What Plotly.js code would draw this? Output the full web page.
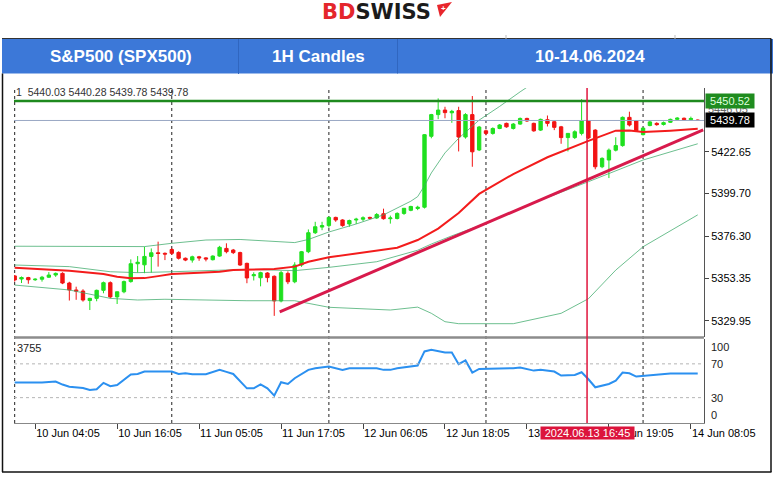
<!DOCTYPE html>
<html><head><meta charset="utf-8">
<script src="https://cdn.plot.ly/plotly-3.0.1.min.js"></script>
<style>html,body{margin:0;padding:0;background:#fff;overflow:hidden}#chart{width:780px;height:478px}</style>
</head><body><div id="chart"></div>
<script>
// ---- data (hourly candles, bar index 0..100) ----
const openP = [5354.5,5352.8,5353.6,5352.4,5352.7,5353.8,5355.0,5355.9,5350.6,5346.8,
 5346.2,5341.0,5342.2,5346.6,5350.8,5343.0,5345.8,5351.4,5361.2,5360.6,
 5365.2,5367.2,5366.9,5369.0,5367.4,5364.2,5363.2,5365.0,5364.4,5363.4,
 5365.4,5369.6,5368.7,5367.3,5361.4,5354.6,5353.5,5356.1,5354.3,5340.8,
 5355.9,5351.3,5360.5,5367.8,5378.2,5381.3,5382.1,5386.6,5385.2,5383.0,
 5385.2,5385.6,5386.6,5386.3,5388.6,5385.9,5386.0,5388.8,5390.5,5391.5,
 5392.2,5431.1,5443.0,5445.5,5444.0,5445.2,5430.7,5443.0,5423.6,5434.1,
 5432.7,5435.4,5438.2,5435.4,5437.8,5440.9,5438.2,5434.5,5440.2,5439.1,
 5436.3,5430.4,5430.4,5432.7,5439.5,5434.5,5414.4,5418.1,5423.5,5426.0,
 5441.5,5439.5,5432.0,5437.0,5438.2,5437.6,5438.8,5440.4,5441.0,5440.2,
 5440.03];
const highP = [5355.0,5354.2,5354.0,5353.2,5354.5,5356.6,5356.4,5356.5,5351.3,5348.6,
 5347.2,5342.5,5347.0,5351.4,5351.5,5346.0,5352.0,5363.6,5365.4,5370.5,
 5369.6,5373.3,5367.4,5369.8,5368.0,5364.6,5365.6,5365.5,5364.8,5365.8,
 5371.0,5372.4,5369.3,5367.8,5361.8,5356.5,5356.8,5356.6,5354.8,5357.2,
 5357.0,5362.0,5368.2,5380.0,5384.2,5384.2,5387.0,5387.0,5385.6,5385.4,
 5386.4,5387.2,5387.0,5389.0,5391.4,5387.6,5389.4,5391.8,5393.0,5393.0,
 5432.3,5443.4,5451.9,5447.3,5445.6,5447.3,5443.8,5453.2,5436.8,5434.8,
 5436.0,5437.8,5438.6,5438.4,5441.4,5441.3,5438.6,5440.8,5442.5,5439.6,
 5436.8,5432.9,5434.4,5451.5,5440.0,5435.0,5419.6,5424.4,5430.6,5442.0,
 5444.6,5440.0,5436.0,5439.6,5438.8,5439.2,5440.8,5441.6,5441.4,5441.9,
 5440.28];
const lowP = [5351.4,5350.6,5350.2,5351.8,5351.4,5353.4,5354.0,5350.0,5341.0,5341.4,
 5340.4,5335.8,5340.6,5345.0,5342.2,5339.1,5345.0,5350.8,5356.3,5356.0,
 5356.3,5359.6,5363.2,5366.0,5363.5,5362.6,5361.8,5362.8,5362.5,5363.0,
 5365.0,5366.9,5366.5,5360.0,5350.5,5352.0,5348.8,5351.0,5332.6,5340.0,
 5350.0,5350.5,5359.5,5367.0,5377.5,5379.6,5381.0,5384.2,5381.5,5381.5,
 5383.0,5384.5,5385.6,5385.8,5385.4,5383.2,5385.5,5388.0,5390.0,5390.6,
 5391.5,5430.0,5440.5,5441.0,5438.5,5422.8,5429.8,5414.4,5423.0,5431.6,
 5432.0,5435.0,5435.8,5434.8,5437.4,5439.0,5433.6,5434.0,5436.5,5434.5,
 5427.0,5422.8,5429.6,5431.6,5429.6,5413.0,5413.6,5408.2,5422.8,5425.4,
 5436.5,5433.6,5431.6,5436.6,5436.9,5437.0,5438.4,5440.0,5439.8,5439.6,
 5439.78];
const closeP = [5352.3,5353.6,5352.4,5352.7,5353.8,5355.0,5355.9,5350.6,5346.8,5346.2,
 5341.3,5342.2,5346.6,5350.8,5343.0,5345.8,5351.4,5361.2,5362.0,5365.2,
 5367.2,5366.8,5366.5,5366.9,5364.2,5363.2,5365.0,5364.4,5363.8,5365.4,
 5370.2,5367.8,5367.3,5360.5,5353.4,5355.2,5356.3,5353.6,5340.8,5356.3,
 5351.3,5360.5,5367.8,5378.2,5381.5,5382.1,5386.6,5385.2,5382.1,5384.9,
 5385.6,5386.4,5386.2,5388.2,5385.9,5386.3,5388.8,5391.6,5392.6,5392.2,
 5432.0,5443.0,5445.5,5444.1,5444.8,5430.7,5443.0,5422.6,5436.2,5432.7,
 5435.4,5437.3,5436.3,5437.8,5440.9,5439.5,5434.1,5440.4,5438.2,5436.0,
 5430.4,5432.7,5433.6,5439.5,5430.2,5414.4,5419.0,5423.5,5426.0,5441.5,
 5437.3,5434.1,5435.6,5439.0,5437.5,5438.6,5440.4,5441.1,5440.2,5440.9,
 5439.78];

// red moving average
const maBars = [0,8,13,15,17,19,21,23,27,30,32,34,38,41,43,46,52,56,59,62,65,68,73,78,84,88,90,92,96,100];
const maVals = [5359.0,5357.3,5355.5,5354.0,5353.2,5353.3,5354.4,5355.5,5356.2,5356.8,5357.7,5358.0,5358.3,5359.6,5362.3,5364.7,5367.8,5370.0,5374.2,5380.5,5389.0,5399.5,5410.4,5419.6,5428.6,5434.2,5434.3,5433.5,5434.2,5435.2];
// Bollinger bands
const bbUpBars = [0,12,19,23,28,33,37,41,43,46,50,54,58,59,60,61,63,65,68,71,74,77];
const bbUpVals = [5370.8,5370.6,5370.6,5372.4,5374.2,5374.5,5373.8,5372.8,5374.5,5378.6,5383.0,5388.0,5395.5,5398.0,5404.0,5411.0,5422.0,5430.0,5440.0,5447.5,5455.5,5463.0];
const bbMidBars = [0,8,14,18,23,30,34,41,46,53,59,61,64,69,75,84,92,100];
const bbMidVals = [5360.5,5359.6,5356.8,5356.3,5356.8,5357.4,5358.1,5357.4,5359.2,5362.3,5368.6,5372.0,5376.5,5383.4,5393.2,5406.2,5418.1,5427.0];
const bbLowBars = [0,8,14,18,22,34,41,46,55,59,61,63,65,73,80,84,88,92,100];
const bbLowVals = [5349.5,5346.8,5342.2,5341.3,5341.7,5340.9,5340.9,5337.3,5335.8,5337.4,5334.0,5329.4,5328.3,5328.3,5334.0,5342.0,5357.7,5370.5,5388.0];
// drawn trend line
const trendBars = [38.8, 100.8];
const trendVals = [5334.8, 5434.6];
// RSI
const rsiBars = [0,4,6,7,8,10,11,12,13,14,15,16,17,18,19,23,24,25,26,28,30,31,32,34,35,36,37,38,39,40,41,43,44,46,48,49,53,54,55,56,58,59,60,61,63,64,65,66,67,68,73,74,76,77,79,80,82,83,84,85,87,88,89,90,91,93,96,100];
const rsiVals = [47.8,47.8,49,45.5,43,41.5,39,40,47.5,43.5,45,51,57.5,58,61,61,58,59,57.7,57.7,62.9,60.5,58,41,41,45.8,41,32.4,48.2,46.2,53,62.9,64.9,66.8,62.9,64.9,64.9,62.9,62.9,64.9,66.8,68,84.7,86.6,83.5,83.5,69.6,74,59.7,64,64.9,65.6,62,62.9,60.9,56.1,56.9,60.1,51.8,42.3,46.2,50.2,59.7,58.9,55,56.1,58.5,58.5];
const rsiLevels = [100, 70, 30, 0];

// axis labels
const labelBars = [3,15,27,39,51,63,75,87,99];
const timeLabels = ["10 Jun 04:05","10 Jun 16:05","11 Jun 05:05","11 Jun 17:05","12 Jun 06:05","12 Jun 18:05","13 Jun 07:05","13 Jun 19:05","14 Jun 08:05"];
const priceTicks = [5422.65, 5399.70, 5376.30, 5353.35, 5329.95];
const resistance = 5450.52, askLevel = 5446.05, bidLevel = 5439.78;
const crossBar = 83.8, crossLabel = "2024.06.13 16:45";
const gridBars = [0, 23, 46, 69, 92];
const ohlcInfo = "1  5440.03 5440.28 5439.78 5439.78";
const rsiInfo = "3755";
const headerCells = ["S&P500 (SPX500)", "1H Candles", "10-14.06.2024"];

// ---- layout geometry ----
const W=780, H=478, L=14, R=76, T=88, B=55;
const PW=W-L-R, PH=H-T-B;
const px = x => (x-L)/PW, py = y => (H-B-y)/PH;
const FONT = 'Liberation Sans, Arial, sans-serif';
const idx = openP.map((_, i) => i);

const traces = [
  {type:'candlestick', x: idx, open: openP, high: highP, low: lowP, close: closeP,
   xaxis:'x', yaxis:'y', whiskerwidth:0,
   increasing:{line:{color:'#1fe01f', width:1}, fillcolor:'#1fe01f'},
   decreasing:{line:{color:'#f21313', width:1}, fillcolor:'#f21313'},
   hoverinfo:'skip', showlegend:false},
  {type:'scatter', mode:'lines', x: bbUpBars, y: bbUpVals, line:{color:'rgba(60,170,105,0.75)', width:1}, xaxis:'x', yaxis:'y', hoverinfo:'skip'},
  {type:'scatter', mode:'lines', x: bbMidBars, y: bbMidVals, line:{color:'rgba(60,170,105,0.75)', width:1}, xaxis:'x', yaxis:'y', hoverinfo:'skip'},
  {type:'scatter', mode:'lines', x: bbLowBars, y: bbLowVals, line:{color:'rgba(60,170,105,0.75)', width:1}, xaxis:'x', yaxis:'y', hoverinfo:'skip'},
  {type:'scatter', mode:'lines', x: maBars, y: maVals, line:{color:'#f31c1c', width:2}, xaxis:'x', yaxis:'y', hoverinfo:'skip'},
  {type:'scatter', mode:'lines', x: trendBars, y: trendVals, line:{color:'#d81a4c', width:3}, xaxis:'x', yaxis:'y', hoverinfo:'skip'},
  {type:'scatter', mode:'lines', x: rsiBars, y: rsiVals, line:{color:'#2b90f0', width:2}, xaxis:'x', yaxis:'y2', hoverinfo:'skip'}
];

const shapes = [
  // header band
  {type:'rect', xref:'paper', yref:'paper', x0:px(2), x1:px(773), y0:py(73.5), y1:py(39), fillcolor:'#3c78d8', line:{width:0}, layer:'below'},
  {type:'line', xref:'paper', yref:'paper', x0:px(2), x1:px(771), y0:py(38.5), y1:py(38.5), line:{color:'#333', width:1}},
  {type:'line', xref:'paper', yref:'paper', x0:px(238.5), x1:px(238.5), y0:py(74), y1:py(39), line:{color:'#3066c0', width:1}},
  {type:'line', xref:'paper', yref:'paper', x0:px(397.5), x1:px(397.5), y0:py(73.5), y1:py(39), line:{color:'#3066c0', width:1}},
  {type:'line', xref:'paper', yref:'paper', x0:px(506), x1:px(506), y0:py(39), y1:py(35), line:{color:'#bbb', width:1}},
  {type:'line', xref:'paper', yref:'paper', x0:px(675), x1:px(675), y0:py(39), y1:py(35), line:{color:'#bbb', width:1}},
  // outer frame
  {type:'line', xref:'paper', yref:'paper', x0:px(2.5), x1:px(2.5), y0:py(73.5), y1:py(472), line:{color:'#111', width:1.5}},
  {type:'line', xref:'paper', yref:'paper', x0:px(771), x1:px(771), y0:py(38.5), y1:py(472), line:{color:'#111', width:1.5}},
  {type:'line', xref:'paper', yref:'paper', x0:px(2), x1:px(771.5), y0:py(472), y1:py(472), line:{color:'#111', width:1.5}},
  // logo flag
  {type:'path', xref:'paper', yref:'paper', path:`M ${px(437)},${py(5)} L ${px(452)},${py(2)} L ${px(440)},${py(17)} Z`, fillcolor:'#e8262c', line:{width:0}},
  // panel separator
  {type:'line', xref:'paper', yref:'paper', x0:px(14), x1:px(704), y0:py(337.6), y1:py(337.6), line:{color:'#8c8c8c', width:2.5}},
  // RSI levels
  {type:'line', xref:'paper', yref:'y2', x0:0, x1:1, y0:rsiLevels[1], y1:rsiLevels[1], line:{color:'#b5b5b5', width:1, dash:'dot'}},
  {type:'line', xref:'paper', yref:'y2', x0:0, x1:1, y0:rsiLevels[2], y1:rsiLevels[2], line:{color:'#b5b5b5', width:1, dash:'dot'}},
  // horizontal levels
  {type:'line', xref:'paper', yref:'y', x0:0, x1:1, y0:bidLevel, y1:bidLevel, line:{color:'#9aa8c4', width:1}},
  {type:'line', xref:'paper', yref:'y', x0:0, x1:1, y0:resistance, y1:resistance, line:{color:'#1e8a1e', width:2.5}},
];
gridBars.forEach(b => shapes.push({type:'line', xref:'x', yref:'paper', x0:b, x1:b, y0:0, y1:1, line:{color:'#222', width:1, dash:'dot'}, layer:'below'}));
shapes.push({type:'line', xref:'x', yref:'paper', x0:crossBar, x1:crossBar, y0:0, y1:1, line:{color:'#e0143c', width:1.5}});

const hdr = (x, t) => ({xref:'paper', yref:'paper', x:px(x), y:py(56.5), text:'<b>'+t+'</b>', showarrow:false,
  xanchor:'center', yanchor:'middle', font:{family:FONT, size:17, color:'#fff'}});

const annotations = [
  {xref:'paper', yref:'paper', x:px(376), y:py(11.5), text:'<b><span style="color:#e4262c">BD</span><span style="color:#1b1b1b">SWISS</span></b>', showarrow:false, font:{family:'DejaVu Sans, sans-serif', size:21}, xanchor:'center', yanchor:'middle'},
  {xref:'paper', yref:'paper', x:px(443.5), y:py(8.5), text:'<b>+</b>', showarrow:false, font:{family:FONT, size:8, color:'#fff'}, xanchor:'center', yanchor:'middle'},
  hdr(121, headerCells[0]), hdr(318, headerCells[1]), hdr(590, headerCells[2]),
  {xref:'paper', yref:'paper', x:px(14), y:py(92.5), text:ohlcInfo, showarrow:false, xanchor:'left', yanchor:'middle', font:{family:FONT, size:10.5, color:'#333'}},
  {xref:'paper', yref:'paper', x:px(15), y:py(348), text:rsiInfo, showarrow:false, xanchor:'left', yanchor:'middle', font:{family:FONT, size:11, color:'#222'}},
  // price badges
  {xref:'paper', yref:'y', x:px(706), y:askLevel, text:askLevel.toFixed(2), showarrow:false, xanchor:'left', yanchor:'middle', font:{family:FONT, size:11, color:'#666'}},
  {xref:'paper', yref:'y', x:px(705), y:resistance, text:resistance.toFixed(2), showarrow:false, xanchor:'left', yanchor:'middle', font:{family:FONT, size:11, color:'#dfffdc'}, bgcolor:'#1f8c1f', borderpad:1, width:46},
  {xref:'paper', yref:'y', x:px(705), y:bidLevel, text:bidLevel.toFixed(2), showarrow:false, xanchor:'left', yanchor:'middle', font:{family:FONT, size:11, color:'#fff'}, bgcolor:'#000', borderpad:1, width:46},
  // crosshair time
  {xref:'x', yref:'paper', x:crossBar, y:0, yshift:-3, text:crossLabel, showarrow:false, xanchor:'center', yanchor:'top', font:{family:FONT, size:11, color:'#fff'}, bgcolor:'#dc143c', borderpad:0, width:93}
];
// RSI level labels
rsiLevels.forEach(v => annotations.push({xref:'paper', yref:'y2', x:px(709), y:v, text:String(v), showarrow:false, xanchor:'left',
  yanchor: v===100 ? 'top' : (v===0 ? 'bottom' : 'middle'), font:{family:FONT, size:11, color:'#222'}}));

const layout = {
  width:W, height:H, margin:{l:L, r:R, t:T, b:B, autoexpand:false},
  paper_bgcolor:'#fff', plot_bgcolor:'#fff', showlegend:false,
  font:{family:FONT, size:11, color:'#000'},
  xaxis:{range:[-0.1, 100.92], anchor:'y2', tickvals:labelBars, ticktext:timeLabels, ticks:'outside', ticklen:5, tickcolor:'#444',
    ticklabelposition:'outside right', showgrid:false, zeroline:false, showline:true, linecolor:'#888', linewidth:1,
    rangeslider:{visible:false}, tickfont:{family:FONT, size:11, color:'#000'}, fixedrange:true},
  yaxis:{domain:[py(337), 1], range:[5321.0, 5457.6], side:'right', anchor:'x', tickvals:priceTicks, ticktext:priceTicks.map(v=>v.toFixed(2)),
    ticks:'outside', ticklen:4, tickcolor:'#444', showline:true, linecolor:'#555', linewidth:1, showgrid:false, zeroline:false,
    tickfont:{family:FONT, size:11, color:'#000'}, fixedrange:true},
  yaxis2:{domain:[0, py(338.5)], range:[0, 100], side:'right', anchor:'x', showticklabels:false, ticks:'', showline:true, linecolor:'#555', linewidth:1,
    showgrid:false, zeroline:false, fixedrange:true},
  shapes: shapes, annotations: annotations
};

Plotly.newPlot('chart', traces, layout, {staticPlot:true, displayModeBar:false});
</script></body></html>
